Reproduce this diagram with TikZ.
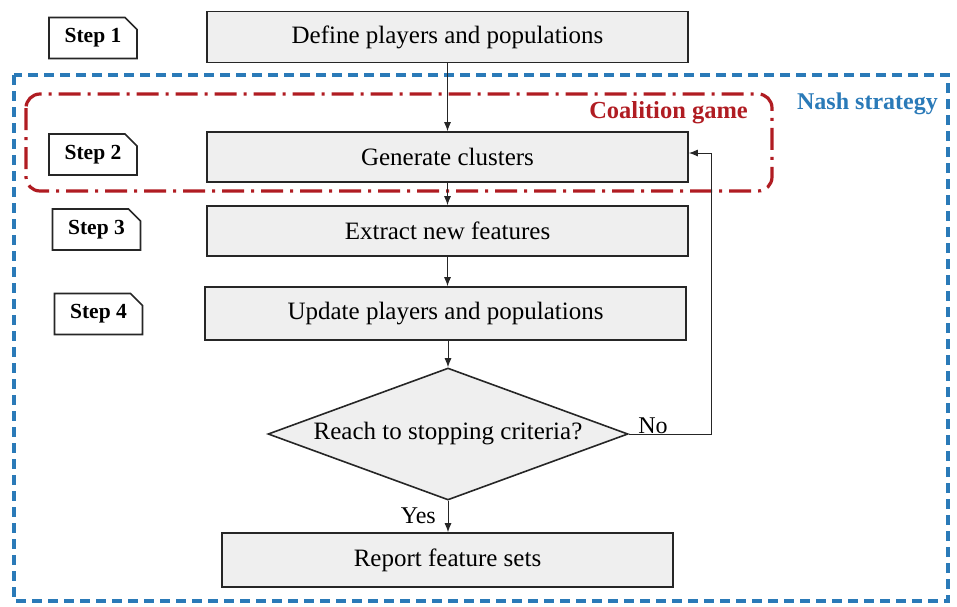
\documentclass[tikz,border=0pt]{standalone}
\usepackage{fontspec}
\setmainfont{Liberation Serif}
\usetikzlibrary{shapes.geometric,shapes.misc,arrows.meta}
\definecolor{boxfill}{HTML}{EFEFEF}
\definecolor{coalred}{HTML}{B01C22}
\definecolor{nashblue}{HTML}{2A7AB8}
\tikzset{
  proc/.style={draw=black!85, line width=1.6pt, fill=boxfill, minimum width=481pt,
    minimum height=51pt, font=\fontsize{25}{28}\selectfont, inner sep=0pt},
  steplabel/.style={chamfered rectangle, chamfered rectangle corners=north east,
    chamfered rectangle xsep=6pt, chamfered rectangle ysep=6pt,
    draw=black!85, line width=1.6pt, fill=white, minimum width=88pt, minimum height=41pt,
    inner sep=0pt, font=\bfseries\fontsize{21.5}{24}\selectfont},
  decision/.style={diamond, draw=black!85, line width=1.6pt, fill=boxfill,
    minimum width=360pt, minimum height=132pt, aspect=2.7, inner sep=0pt,
    font=\fontsize{25}{28}\selectfont},
  flow/.style={-{Latex[length=9pt,width=7pt]}, line width=1pt, draw=black!85},
  lbl/.style={font=\fontsize{24}{26}\selectfont, inner sep=0pt}
}
\begin{document}
\begin{tikzpicture}[x=1pt,y=-1pt]
\useasboundingbox (0,0) rectangle (957,606);

% outer Nash strategy frame
\draw[nashblue, line width=3.2pt, dash pattern=on 10pt off 6pt] (14,75) rectangle (948,601);
\node[anchor=north east, text=nashblue, font=\bfseries\fontsize{24}{26}\selectfont, inner sep=0pt]
  (nash) at (938,93) {Nash strategy};

% coalition game frame
\draw[coalred, line width=3.2pt, rounded corners=14pt,
  dash pattern=on 22pt off 7pt on 3pt off 7pt] (26,94) rectangle (772,191);
\node[anchor=north east, text=coalred, font=\bfseries\fontsize{24.5}{26}\selectfont, inner sep=0pt]
  (coal) at (748,101) {Coalition game};

% process boxes
\node[proc] (define)  at (447.5,37)  {Define players and populations};
\node[proc, minimum height=50pt] (gen) at (447.5,157) {Generate clusters};
\node[proc, minimum height=50pt] (extract) at (447.5,231) {Extract new features};
\node[proc, minimum height=53pt] (update) at (445.5,313.5) {Update players and populations};
\node[decision] (stop) at (448,434) {Reach to stopping criteria?};
\node[proc, minimum width=451pt, minimum height=54pt] (report) at (447.5,560) {Report feature sets};

% step labels
\node[steplabel] (s1) at (93,38)  {Step 1};
\node[steplabel] (s2) at (93,154.5) {Step 2};
\node[steplabel] (s3) at (96.5,229.5) {Step 3};
\node[steplabel] (s4) at (98.5,314) {Step 4};

% connectors
\draw[flow] (define.south) -- (gen.north);
\draw[flow] (gen.south) -- (extract.north);
\draw[flow] (extract.south) -- (update.north -| extract.south);
\draw[flow] (update.south -| stop.north) -- (stop.north);
\draw[flow] (stop.south) -- (report.north -| stop.south);
\coordinate (loopa) at (711,434);
\coordinate (loopb) at (711,153);
\draw[flow] (stop.east) -- (loopa) -- (loopb) -- (loopb -| gen.east);

\node[lbl, anchor=south] (no) at (653,434) {No};
\node[lbl, anchor=east] (yes) at (436,516) {Yes};
\end{tikzpicture}
\end{document}
